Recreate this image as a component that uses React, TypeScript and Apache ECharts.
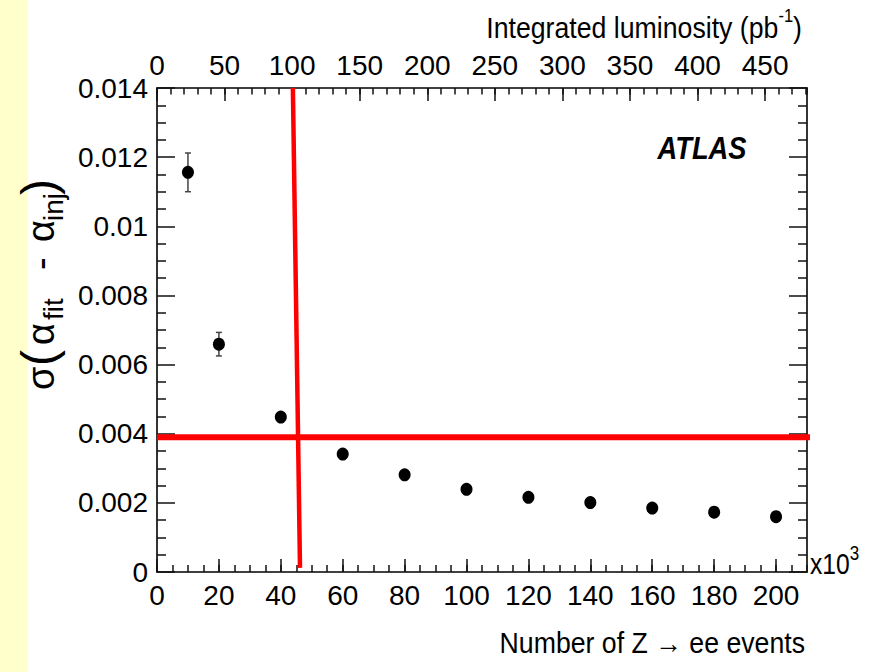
import { useEffect, useRef } from 'react';
import * as echarts from 'echarts';

// Number of Z -> ee events (x10^3)
const events = [10, 20, 40, 60, 80, 100, 120, 140, 160, 180, 200];
// sigma(alpha_fit - alpha_inj) for each sample size
const sigmaAlpha = [0.01156, 0.00659, 0.00448, 0.00341, 0.00281, 0.00239, 0.00216, 0.00201, 0.00185, 0.00173, 0.0016];
// statistical uncertainty on each point
const sigmaErr = [0.00056, 0.00034, 0.00012, 0.0001, 0.00008, 0.00007, 0.00006, 0.00006, 0.00005, 0.00005, 0.00005];

// axis ranges
const eventsMax = 210; // x10^3 events
const lumiMax = 481; // pb^-1 matching eventsMax
const sigmaMax = 0.014;

// target precision (horizontal) and the required sample (vertical)
const targetLine = [[0, 0.0039], [211.5, 0.0039]];
const requiredLine = [[43.9, 0.014], [46.2, 0.00012]];

const FONT = "'Liberation Sans', Arial, Helvetica, sans-serif";

const txt = (text: string, font: string, align = 'left', vAlign = 'middle') => ({
  text,
  font,
  fill: '#000',
  align,
  verticalAlign: vAlign,
  textAlign: align,
  textVerticalAlign: vAlign,
});

export default function App() {
  const ref = useRef<HTMLDivElement>(null);

  useEffect(() => {
    if (!ref.current) return;
    const chart = echarts.init(ref.current, undefined, { renderer: 'svg' });

    const points = events.map((x, i) => [x, sigmaAlpha[i]]);
    const errPoints = events.map((x, i) => [x, sigmaAlpha[i], sigmaErr[i]]);

    const tickStyle = { color: '#111', width: 1.5 };
    const frameLine = { show: true, onZero: false, lineStyle: { color: '#000', width: 1.6 } };
    const labelStyle = { color: '#000', fontFamily: FONT, fontSize: 28 };

    const option: any = {
      animation: false,
      backgroundColor: '#fff',
      grid: { left: 157, right: 69, top: 88, bottom: 100, containLabel: false },
      xAxis: [
        {
          type: 'value', position: 'bottom', min: 0, max: eventsMax, interval: 20,
          axisLine: frameLine,
          axisTick: { show: true, inside: true, length: 13, lineStyle: tickStyle },
          axisLabel: { ...labelStyle, margin: 9, showMaxLabel: false },
          splitLine: { show: false },
        },
        {
          type: 'value', position: 'bottom', min: 0, max: eventsMax, interval: 5,
          axisLine: { show: false, onZero: false },
          axisTick: { show: true, inside: true, length: 7, lineStyle: tickStyle },
          axisLabel: { show: false },
          splitLine: { show: false },
        },
        {
          type: 'value', position: 'top', min: 0, max: lumiMax, interval: 50,
          axisLine: frameLine,
          axisTick: { show: true, inside: true, length: 13, lineStyle: tickStyle },
          axisLabel: { ...labelStyle, margin: 9, showMaxLabel: false },
          splitLine: { show: false },
        },
        {
          type: 'value', position: 'top', min: 0, max: lumiMax, interval: 10,
          axisLine: { show: false, onZero: false },
          axisTick: { show: true, inside: true, length: 6.5, lineStyle: tickStyle },
          axisLabel: { show: false },
          splitLine: { show: false },
        },
      ],
      yAxis: [
        {
          type: 'value', position: 'left', min: 0, max: sigmaMax, interval: 0.002,
          axisLine: frameLine,
          axisTick: { show: true, inside: true, length: 18, lineStyle: tickStyle },
          minorTick: { show: true, splitNumber: 4, length: 9, lineStyle: tickStyle },
          axisLabel: { ...labelStyle, margin: 9 },
          splitLine: { show: false },
          minorSplitLine: { show: false },
        },
        {
          type: 'value', position: 'right', min: 0, max: sigmaMax, interval: 0.002,
          axisLine: frameLine,
          axisTick: { show: true, inside: true, length: 18, lineStyle: tickStyle },
          minorTick: { show: true, splitNumber: 4, length: 9, lineStyle: tickStyle },
          axisLabel: { show: false },
          splitLine: { show: false },
          minorSplitLine: { show: false },
        },
      ],
      series: [
        {
          type: 'custom',
          xAxisIndex: 0,
          yAxisIndex: 0,
          z: 3,
          data: errPoints,
          encode: { x: 0, y: 1 },
          renderItem: (_params: any, api: any) => {
            const x = api.value(0);
            const y = api.value(1);
            const e = api.value(2);
            const hi = api.coord([x, y + e]);
            const lo = api.coord([x, y - e]);
            const cap = 3;
            const style = { stroke: '#444', lineWidth: 1.5 };
            return {
              type: 'group',
              children: [
                { type: 'line', shape: { x1: hi[0], y1: hi[1], x2: lo[0], y2: lo[1] }, style },
                { type: 'line', shape: { x1: hi[0] - cap, y1: hi[1], x2: hi[0] + cap, y2: hi[1] }, style },
                { type: 'line', shape: { x1: lo[0] - cap, y1: lo[1], x2: lo[0] + cap, y2: lo[1] }, style },
              ],
            };
          },
        },
        {
          type: 'scatter',
          xAxisIndex: 0,
          yAxisIndex: 0,
          z: 4,
          symbol: 'circle',
          symbolSize: [12, 13],
          itemStyle: { color: '#000', opacity: 1 },
          data: points,
        },
        {
          type: 'line',
          xAxisIndex: 0,
          yAxisIndex: 0,
          z: 5,
          clip: false,
          symbol: 'none',
          lineStyle: { color: '#ff0000', width: 6 },
          data: targetLine,
        },
        {
          type: 'line',
          xAxisIndex: 0,
          yAxisIndex: 0,
          z: 5,
          clip: false,
          symbol: 'none',
          lineStyle: { color: '#ff0000', width: 4.5 },
          data: requiredLine,
        },
      ],
      graphic: [
        {
          type: 'rect', left: 0, top: 0, z: -10,
          shape: { x: 0, y: 0, width: 28, height: 672 },
          style: { fill: '#ffffcc' },
        },
        {
          type: 'text', x: 802, y: 25, z: 10, scaleX: 0.92,
          style: {
            text: '{m|Integrated luminosity (pb}{s|-1}{m|)}',
            align: 'right', verticalAlign: 'middle', textAlign: 'right', textVerticalAlign: 'middle',
            fill: '#000',
            rich: {
              m: { fontFamily: FONT, fontSize: 29, lineHeight: 36, verticalAlign: 'bottom', fill: '#000' },
              s: { fontFamily: FONT, fontSize: 18, lineHeight: 18, verticalAlign: 'top', fill: '#000' },
            },
          },
        },
        {
          type: 'text', x: 805, y: 643, z: 10, scaleX: 0.92,
          style: txt('Number of Z \u2192 ee events', `29px ${FONT}`, 'right'),
        },
        {
          type: 'text', x: 810, y: 579, z: 10, scaleX: 0.85,
          style: {
            text: '{m|x10}{s|3}',
            align: 'left', verticalAlign: 'bottom', textAlign: 'left', textVerticalAlign: 'bottom',
            fill: '#000',
            rich: {
              m: { fontFamily: FONT, fontSize: 29, lineHeight: 36, verticalAlign: 'bottom', fill: '#000' },
              s: { fontFamily: FONT, fontSize: 20, lineHeight: 20, verticalAlign: 'top', fill: '#000' },
            },
          },
        },
        {
          type: 'text', x: 702, y: 148, z: 10, scaleX: 0.88,
          style: txt('ATLAS', `italic bold 31px ${FONT}`, 'center'),
        },
        {
          type: 'group', x: 53, y: 390, rotation: Math.PI / 2, z: 10,
          children: [
            { type: 'text', x: 0, y: -12, style: txt('\u03c3', `38px ${FONT}`) },
            { type: 'text', x: 24, y: -15, style: txt('(', `48px ${FONT}`) },
            { type: 'text', x: 45, y: -12, style: txt('\u03b1', `38px ${FONT}`) },
            { type: 'text', x: 70, y: 0, style: txt('fit', `28px ${FONT}`) },
            { type: 'text', x: 120, y: -12, style: txt('-', `38px ${FONT}`) },
            { type: 'text', x: 148, y: -12, style: txt('\u03b1', `38px ${FONT}`) },
            { type: 'text', x: 169, y: 0, style: txt('inj', `28px ${FONT}`) },
            { type: 'text', x: 195, y: -15, style: txt(')', `48px ${FONT}`) },
          ],
        },
      ],
    };

    chart.setOption(option);
    return () => chart.dispose();
  }, []);

  return (
    <div
      ref={ref}
      style={{ position: 'absolute', left: 0, top: 0, width: 876, height: 672 }}
    />
  );
}
